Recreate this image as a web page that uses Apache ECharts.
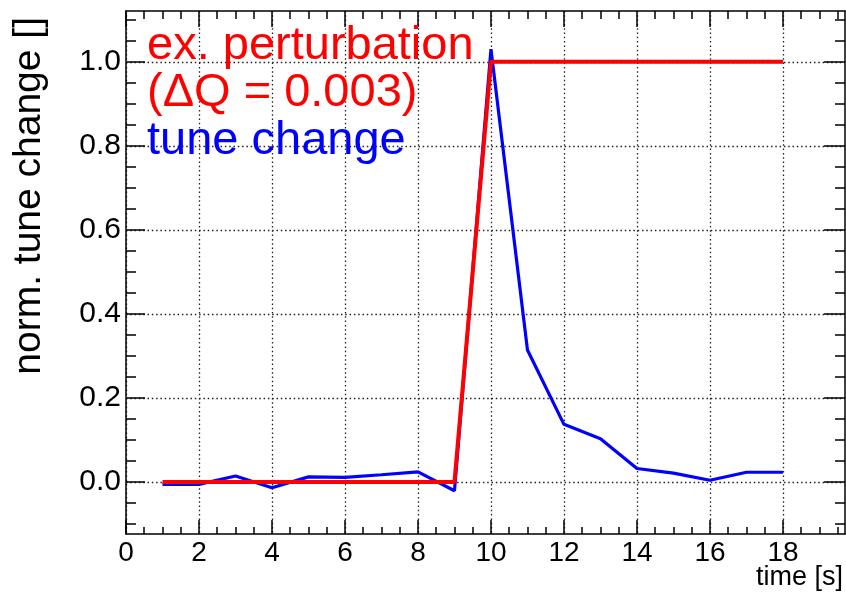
<!DOCTYPE html>
<html>
<head>
<meta charset="utf-8">
<script src="https://cdn.jsdelivr.net/npm/echarts@6/dist/echarts.min.js"></script>
<style>
  html, body { margin: 0; padding: 0; background: #fff; }
  #chart { width: 846px; height: 595px; }
</style>
</head>
<body>
<div id="chart"></div>
<script>
// Measurement times [s]
const time = [1, 2, 3, 4, 5, 6, 7, 8, 9, 10, 11, 12, 13, 14, 15, 16, 17, 18];
// Normalised excitation (step applied between 9 s and 10 s)
const perturbation = [0, 0, 0, 0, 0, 0, 0, 0, 0, 1, 1, 1, 1, 1, 1, 1, 1, 1];
// Measured normalised tune change
const tuneChange = [-0.006, -0.006, 0.014, -0.014, 0.012, 0.011, 0.017, 0.024, -0.021,
                    1.03, 0.314, 0.137, 0.103, 0.032, 0.021, 0.004, 0.023, 0.023];

// Axis tick labels
const xTicks = [0, 2, 4, 6, 8, 10, 12, 14, 16, 18];
const yTicks = [0.0, 0.2, 0.4, 0.6, 0.8, 1.0];

const xRange = [0, 19.7];
const yRange = [-0.124, 1.121];

const xTitle = 'time [s]';
const yTitle = 'norm. tune change []';
const perturbName = 'ex. perturbation\n(\u0394Q = 0.003)';
const tuneName = 'tune change';

// minor tick positions: 4 subdivisions per major interval
function minorTicks(lo, hi, step) {
  const out = [];
  const n0 = Math.ceil(lo / step - 1e-9), n1 = Math.floor(hi / step + 1e-9);
  for (let i = n0; i <= n1; i++) out.push(+(i * step).toFixed(6));
  return out;
}
const xMinor = minorTicks(xRange[0], xRange[1], 0.5);
const yMinor = minorTicks(yRange[0], yRange[1], 0.05);

const FONT = 'Liberation Sans, Arial, Helvetica, sans-serif';
const frame = { show: true, onZero: false, lineStyle: { color: '#000', width: 1.5 } };
const noLine = { show: false, onZero: false };
const gridDots = { show: true, lineStyle: { color: '#222', width: 1.3, type: [1.5, 2.8] } };
const tickStyle = { color: '#000', width: 1.5 };

function xAx(pos, major, len, ticks, extra) {
  return Object.assign({
    type: 'value', position: pos, min: xRange[0], max: xRange[1],
    axisLine: major ? frame : noLine,
    axisTick: { show: true, inside: true, length: len, customValues: ticks, lineStyle: tickStyle },
    axisLabel: { show: false },
    splitLine: { show: false }
  }, extra || {});
}
function yAx(pos, major, len, ticks, extra) {
  return Object.assign({
    type: 'value', position: pos, min: yRange[0], max: yRange[1],
    axisLine: major ? frame : noLine,
    axisTick: { show: true, inside: true, length: len, customValues: ticks, lineStyle: tickStyle },
    axisLabel: { show: false },
    splitLine: { show: false }
  }, extra || {});
}

const chart = echarts.init(document.getElementById('chart'), null, { renderer: 'canvas' });

chart.setOption({
  animation: false,
  backgroundColor: '#fff',
  textStyle: { fontFamily: FONT },
  grid: { left: 126, top: 11, width: 719, height: 523, containLabel: false, outerBoundsMode: 'none' },
  legend: {
    orient: 'vertical', left: 142, top: 22, padding: 0,
    itemWidth: 0, itemHeight: 0, itemGap: 0,
    selectedMode: false,
    textStyle: { fontSize: 47, lineHeight: 47.5, fontFamily: FONT },
    data: [
      { name: perturbName, icon: 'none', textStyle: { color: '#ff0000' } },
      { name: tuneName, icon: 'none', textStyle: { color: '#0000ff' } }
    ]
  },
  graphic: [
    {
      type: 'text', x: 843, y: 578, silent: true,
      style: { text: xTitle, fill: '#000', font: '27px ' + FONT,
               align: 'right', verticalAlign: 'middle', textAlign: 'right', textVerticalAlign: 'middle' }
    },
    {
      type: 'text', x: 29, y: 17, rotation: Math.PI / 2, silent: true,
      style: { text: yTitle, fill: '#000', font: '39px ' + FONT,
               align: 'right', verticalAlign: 'middle', textAlign: 'right', textVerticalAlign: 'middle' }
    }
  ],
  xAxis: [
    xAx('bottom', true, 14, xTicks, {
      axisLabel: { show: true, customValues: xTicks, fontSize: 28, color: '#000',
                   margin: 5, fontFamily: FONT },
      splitLine: gridDots
    }),
    xAx('bottom', false, 7, xMinor),
    xAx('top', true, 16, xTicks),
    xAx('top', false, 8, xMinor)
  ],
  yAxis: [
    yAx('left', true, 19, yTicks, {
      axisLabel: { show: true, customValues: yTicks, fontSize: 30, color: '#000', margin: 5,
                   fontFamily: FONT, formatter: v => v.toFixed(1) },
      splitLine: gridDots
    }),
    yAx('left', false, 10, yMinor),
    yAx('right', true, 21, yTicks),
    yAx('right', false, 10, yMinor)
  ],
  series: [
    {
      name: tuneName, type: 'line', xAxisIndex: 0, yAxisIndex: 0,
      data: time.map((t, i) => [t, tuneChange[i]]),
      showSymbol: false, symbol: 'none',
      lineStyle: { color: '#0000ff', width: 3.2 }, itemStyle: { color: '#0000ff' },
      z: 3
    },
    {
      name: perturbName, type: 'line', xAxisIndex: 0, yAxisIndex: 0,
      data: time.map((t, i) => [t, perturbation[i]]),
      showSymbol: false, symbol: 'none',
      lineStyle: { color: '#ff0000', width: 4 }, itemStyle: { color: '#ff0000' },
      z: 4
    }
  ]
});
</script>
</body>
</html>
